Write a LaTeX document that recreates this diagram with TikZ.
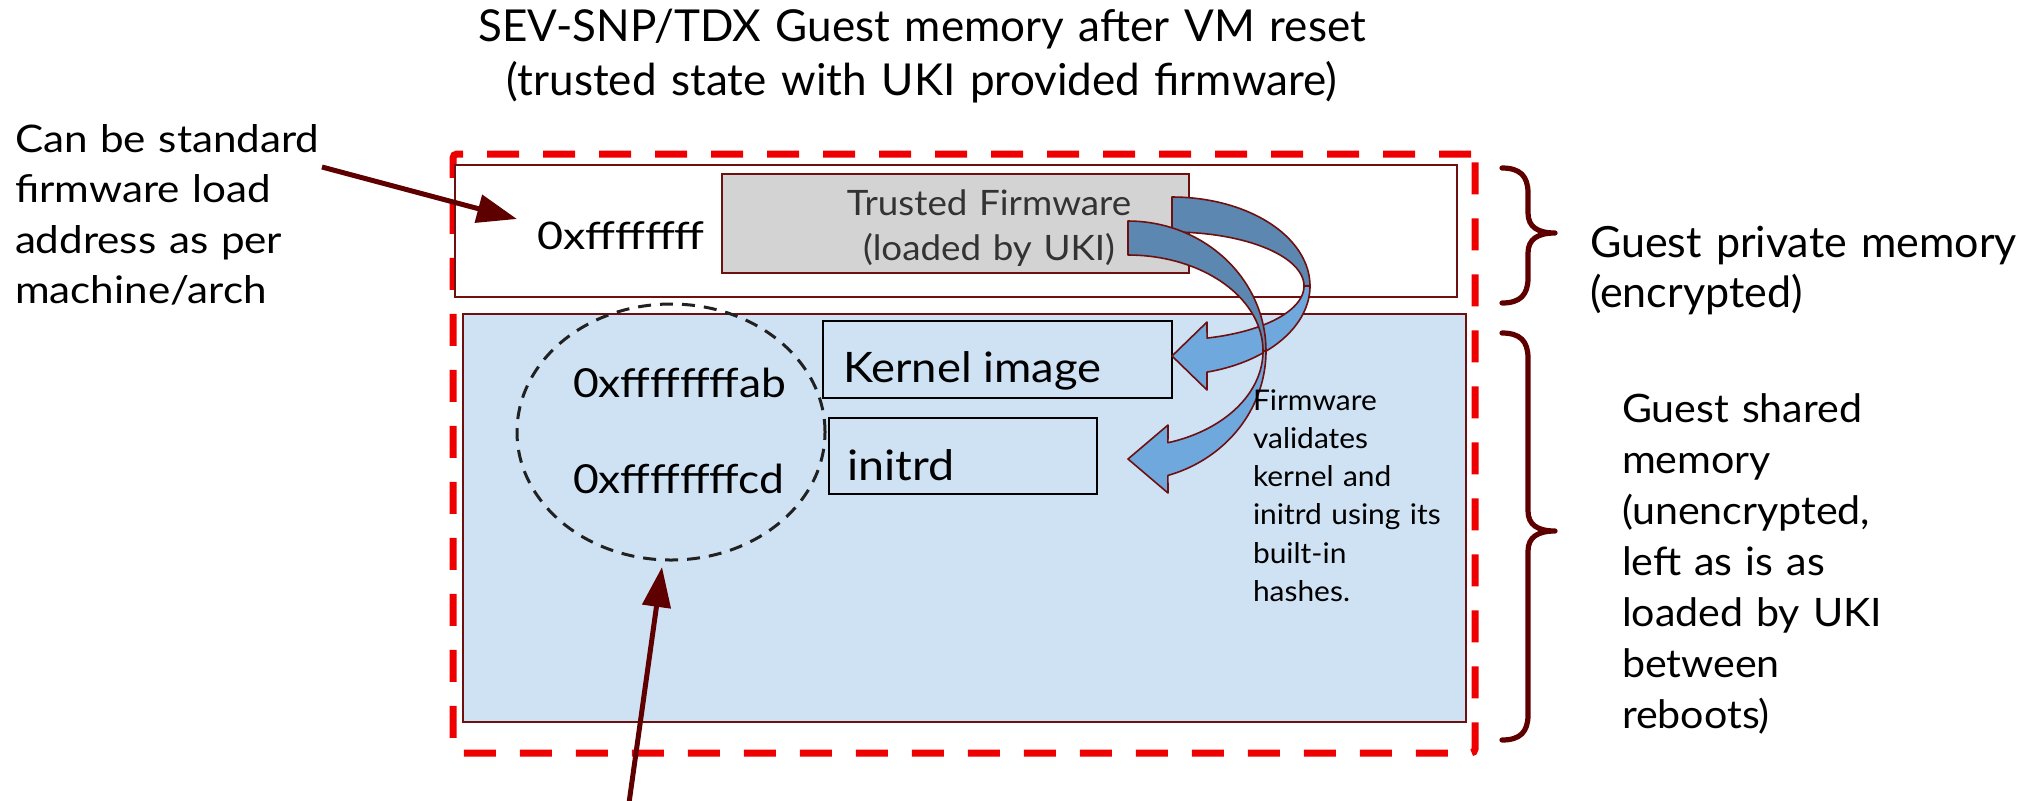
\documentclass[tikz,border=0pt]{standalone}
\usepackage{fontspec}
\setmainfont{Lato}
% slightly widened cuts of the same face
\newfontfamily\widerA{Lato}[FakeStretch=1.05]
\newfontfamily\widerB{Lato}[FakeStretch=1.08]
\newfontfamily\widerC{Lato}[FakeStretch=1.11]
\newfontfamily\widerD{Lato}[FakeStretch=1.18]
\usetikzlibrary{arrows.meta,shapes.geometric}

\definecolor{alertred}{HTML}{EE0000}
\definecolor{borderred}{HTML}{6E1010}
\definecolor{arrowred}{HTML}{5E0000}
\definecolor{sharedblue}{HTML}{CFE2F3}
\definecolor{fwgray}{HTML}{D3D3D3}
\definecolor{backblue}{HTML}{5B87B0}
\definecolor{frontblue}{HTML}{6FA8DC}
\definecolor{inkgray}{HTML}{333333}

% font size and line spacing, both in pt
\newcommand\fsz[2]{\fontsize{#1}{#2}\selectfont}

\begin{document}
\begin{tikzpicture}[x=0.5pt, y=-0.5pt,
  txt/.style={inner sep=0pt, outer sep=0pt, anchor=base west, text=black},
  para/.style={txt, text width=#1, align=left},
  region/.style={draw=borderred, line width=1pt, inner sep=0pt, outer sep=0pt},
  imgbox/.style={draw=black, line width=1pt, inner sep=0pt, outer sep=0pt},
  pointer/.style={draw=arrowred, line width=2.5pt, -{Triangle[length=20pt,width=14pt]}},
  bracket/.style={draw=arrowred, line width=2.6pt, line cap=round, line join=round},
  band/.style={draw=borderred, line width=0.8pt, line join=round},
]
\useasboundingbox (0,0) rectangle (2028,800);

% title
\node[txt, anchor=base, text width=600pt, align=center, font=\fsz{22}{27}] (title) at (922,41)
  {SEV-SNP/TDX Guest memory after VM reset\\(trusted state with UKI provided firmware)};

% whole guest memory (dashed red frame)
\node[draw=alertred, line width=3.5pt, dash pattern=on 16pt off 12pt, rounded corners=2pt,
  minimum width=511pt, minimum height=299.5pt, inner sep=0pt] (guest) at (964,453.5) {};

% private (encrypted) region
\node[region, fill=white, minimum width=501pt, minimum height=66pt] (private) at (956,231) {};
% shared (unencrypted) region
\node[region, fill=sharedblue, minimum width=501.5pt, minimum height=204pt] (shared) at (964.5,518) {};

% firmware image
\node[region, fill=fwgray, minimum width=233.5pt, minimum height=49.5pt] (fw) at (955.5,223.5) {};
\node[txt, anchor=base, text width=200pt, align=center, text=inkgray, font=\widerA\fsz{17.5}{22.5}] (fwlabel) at (989,215)
  {Trusted Firmware\\(loaded by UKI)};
\node[txt, font=\widerD\fsz{19}{23}] (fwaddr) at (537,249) {0xffffffff};

% kernel and initrd images
\node[imgbox, minimum width=174.5pt, minimum height=38.5pt] (kernel) at (997.5,359.5) {};
\node[txt, font=\widerB\fsz{21}{25}] (kernellabel) at (843,382) {Kernel image};
\node[imgbox, minimum width=134pt, minimum height=38pt] (initrd) at (963,456) {};
\node[txt, font=\widerC\fsz{21}{25}] (initrdlabel) at (847,480) {initrd};

% addresses of kernel and initrd
\node[draw=black!87, line width=1.5pt, dash pattern=on 6.5pt off 4.5pt, ellipse,
  minimum width=154pt, minimum height=128pt, inner sep=0pt] (addr) at (671,432) {};
\node[txt, font=\widerC\fsz{20}{24}] (addrab) at (573,397) {0xffffffffab};
\node[txt, font=\widerC\fsz{20}{24}] (addrcd) at (573,493) {0xffffffffcd};

% curved arrow: firmware -> kernel image
\filldraw[band, fill=backblue]
  plot[domain=-90:0, samples=40] ({1172+138*cos(\x)},{286+89*sin(\x)})
  -- plot[domain=0:-90, samples=40] ({1172+132*cos(\x)},{286+54*sin(\x)}) -- cycle;
\filldraw[band, fill=frontblue]
  plot[domain=0:75.3, samples=40] ({1172+138*cos(\x)},{286+89*sin(\x)})
  -- (1207,390) -- (1172,356) -- (1207,322)
  -- plot[domain=74.6:0, samples=40] ({1172+132*cos(\x)},{286+54*sin(\x)}) -- cycle;

% curved arrow: firmware -> initrd
\filldraw[band, fill=backblue]
  plot[domain=-90:0, samples=40] ({1128+138*cos(\x)},{351+130*sin(\x)})
  -- plot[domain=0:-90, samples=40] ({1128+135*cos(\x)},{351+96*sin(\x)}) -- cycle;
\filldraw[band, fill=frontblue]
  plot[domain=0:73.2, samples=40] ({1128+138*cos(\x)},{351+130*sin(\x)})
  -- (1168,493) -- (1128,459) -- (1168,425)
  -- plot[domain=72.8:0, samples=40] ({1128+135*cos(\x)},{351+96*sin(\x)}) -- cycle;

\node[para=120pt, font=\widerA\fsz{14.25}{19.15}] (validate) at (1253,410)
  {Firmware\\validates\\kernel and\\initrd using its\\built-in\\hashes.};

% left note and its pointer
\node[para=200pt, font=\widerC\fsz{19}{25.25}] (loadnote) at (15,152)
  {Can be standard\\firmware load\\address as per\\machine/arch};
\coordinate (loadtail) at (322,167);
\coordinate (loadtip) at (517,219);
\draw[pointer] (loadtail) -- (loadtip);

% pointer to the kernel/initrd addresses
\coordinate (addrtail) at (629,803);
\coordinate (addrtip) at (662,567);
\draw[pointer] (addrtail) -- (addrtip);

% braces and region labels
\draw[bracket] (1502,168) .. controls (1520,168) and (1528,176) .. (1528,193) -- (1528,213)
  .. controls (1528,227) and (1538,233) .. (1555,233)
  .. controls (1538,233) and (1528,239) .. (1528,253) -- (1528,278)
  .. controls (1528,295) and (1520,303) .. (1502,303);
\draw[bracket] (1502,333) .. controls (1520,333) and (1528,341) .. (1528,358) -- (1528,511)
  .. controls (1528,525) and (1538,531) .. (1555,531)
  .. controls (1538,531) and (1528,537) .. (1528,551) -- (1528,715)
  .. controls (1528,732) and (1520,740) .. (1502,740);

\node[para=250pt, font=\fsz{21.5}{25}] (privlabel) at (1590,257)
  {Guest private memory\\(encrypted)};
\node[para=200pt, font=\widerA\fsz{19.6}{25.5}] (sharedlabel) at (1622,422)
  {Guest shared\\memory\\(unencrypted,\\left as is as\\loaded by UKI\\between\\reboots)};
\end{tikzpicture}
\end{document}
